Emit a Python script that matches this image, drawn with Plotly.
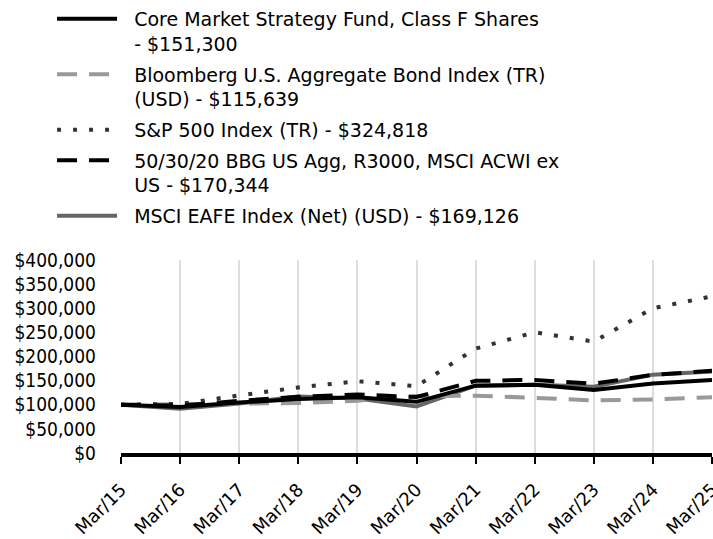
import plotly.graph_objects as go

dates = ["Mar/15", "Mar/16", "Mar/17", "Mar/18", "Mar/19", "Mar/20",
         "Mar/21", "Mar/22", "Mar/23", "Mar/24", "Mar/25"]
core = [100000, 95500, 104500, 112000, 115500, 106000, 139500, 141500, 130500, 144000, 151300]
agg = [100000, 102000, 102400, 103600, 108400, 118000, 118900, 114200, 108900, 110800, 115639]
sp500 = [100000, 101800, 119300, 135900, 148800, 138400, 216400, 250200, 230900, 299900, 324818]
blend = [100000, 98000, 108000, 116500, 121500, 116000, 149500, 151500, 143500, 162000, 170344]
eafe = [100000, 91900, 102700, 117200, 112800, 96400, 139800, 141200, 137200, 162400, 169126]

P = "\u00a0\u00a0"
names = {
    "core": P + "Core Market Strategy Fund, Class F Shares<br>" + P + "- $151,300",
    "agg": P + "Bloomberg U.S. Aggregate Bond Index (TR)<br>" + P + "(USD) - $115,639",
    "sp": P + "S&P 500 Index (TR) - $324,818",
    "blend": P + "50/30/20 BBG US Agg, R3000, MSCI ACWI ex<br>" + P + "US - $170,344",
    "eafe": P + "MSCI EAFE Index (Net) (USD) - $169,126",
}

TICKFONT = "'DejaVu Sans Condensed', 'DejaVu Sans', sans-serif"
LEGFONT = "'DejaVu Sans', sans-serif"

fig = go.Figure()
fig.add_trace(go.Scatter(x=dates, y=eafe, name=names["eafe"], mode="lines", legendgroup="e",
                         line=dict(color="#666666", width=4), legendrank=5))
fig.add_trace(go.Scatter(x=dates, y=agg, name=names["agg"], mode="lines", legendgroup="a",
                         line=dict(color="#999999", width=4, dash="20px,12px"), legendrank=2))
fig.add_trace(go.Scatter(x=dates, y=sp500, name=names["sp"], mode="lines", legendgroup="s",
                         line=dict(color="#333333", width=4, dash="4px,12px"), legendrank=3))
fig.add_trace(go.Scatter(x=dates, y=blend, name=names["blend"], mode="lines", legendgroup="b",
                         line=dict(color="#000000", width=4, dash="20px,12px"), legendrank=4))
fig.add_trace(go.Scatter(x=dates, y=core, name=names["core"], mode="lines", legendgroup="c",
                         line=dict(color="#000000", width=4), legendrank=1))

fig.update_layout(
    width=713, height=539,
    margin=dict(l=121, r=1, t=260, b=86, autoexpand=False),
    paper_bgcolor="white", plot_bgcolor="white",
    font=dict(family=TICKFONT, size=18, color="#000000"),
    showlegend=True,
    legend=dict(
        xref="container", yref="container",
        x=0.073, y=1.0, xanchor="left", yanchor="top",
        itemwidth=60, valign="top",
        font=dict(family=LEGFONT, size=19, color="#000000"),
        bgcolor="rgba(0,0,0,0)", tracegroupgap=3,
    ),
    xaxis=dict(
        type="category", range=[0, 10],
        showgrid=True, gridcolor="#dddddd", gridwidth=2,
        showline=True, linecolor="#000000", linewidth=4,
        ticks="outside", ticklen=7, tickwidth=2, tickcolor="#000000",
        tickangle=-45, tickfont=dict(family=LEGFONT, size=18),
        ticklabelstandoff=8,
        zeroline=False,
    ),
    yaxis=dict(
        range=[0, 400000], dtick=50000, tick0=0,
        tickformat="$,.0f", showgrid=False, zeroline=False,
        showline=False, ticks="", tickfont=dict(family=TICKFONT, size=19),
        ticklabelstandoff=24,
    ),
)

fig.write_html("out.html")
